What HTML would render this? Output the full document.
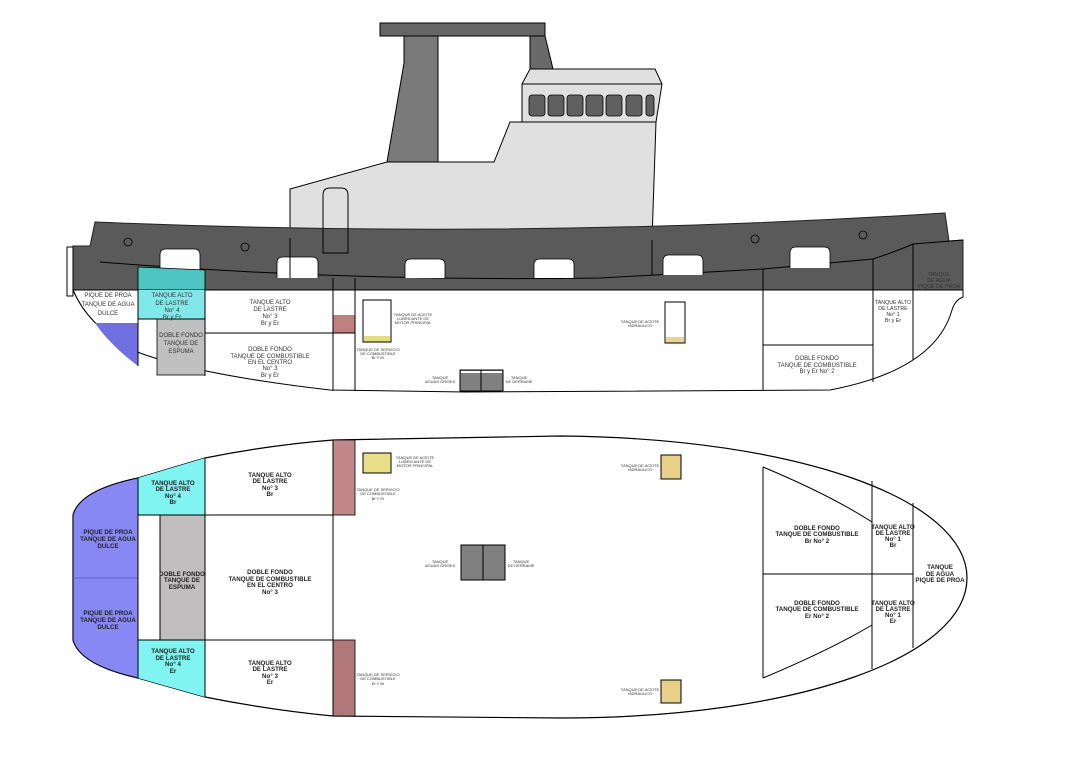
<!DOCTYPE html>
<html><head><meta charset="utf-8"><style>
html,body{margin:0;padding:0;background:#fff;}
svg{display:block;}
text{font-family:"Liberation Sans",sans-serif;fill:#333;text-anchor:middle;}
.s{font-size:6px;}
.x{font-size:5.3px;}
.t{font-size:4px;}
.b{font-size:6.2px;font-weight:bold;fill:#222;}
</style></head><body>
<svg width="1075" height="770" viewBox="0 0 1075 770" xmlns="http://www.w3.org/2000/svg">
<polygon points="290,238 290,189 387,162 494,162 510,122 522,122 522,84 530,69 655,69 662,84 656,122 652,240" fill="#e0e0e0" stroke="#000" stroke-width="1"/>
<line x1="522" y1="84" x2="662" y2="84" stroke="#000"/>
<line x1="510" y1="122" x2="656" y2="122" stroke="#000"/>
<polygon points="404,36 438,36 438,162 387,162 404,63" fill="#7a7a7a" stroke="#000" stroke-width="1"/>
<polygon points="530,36 545,36 553,69 530,69" fill="#6a6a6a" stroke="#000" stroke-width="1"/>
<rect x="380" y="23" width="165" height="13" fill="#666" stroke="#000"/>
<g fill="#606060" stroke="#000" stroke-width="0.8">
<rect x="529" y="95" width="16" height="21" rx="3"/><rect x="548" y="95" width="16" height="21" rx="3"/>
<rect x="567" y="95" width="16" height="21" rx="3"/><rect x="586" y="95" width="17" height="21" rx="3"/>
<rect x="606" y="95" width="16" height="21" rx="3"/><rect x="626" y="95" width="16" height="21" rx="3"/>
<rect x="646" y="95" width="8" height="21" rx="3"/></g>
<path d="M73,290 L73,246 L90,246 L95,222 Q520,240 945,213 L949,241 L963,240 L963,290 Z" fill="#5a5a5a" stroke="#222" stroke-width="1"/>
<rect x="67" y="247" width="6" height="49" fill="#fff" stroke="#000" stroke-width="1"/>
<path d="M100,262 Q350,282 600,278 L763,269 L873,259 Q900,250 913,244 L963,240" fill="none" stroke="#000" stroke-width="1"/>
<g fill="#fff" stroke="#000" stroke-width="0.8">
<path d="M160,272 L160,255 Q160,249 166,249 L194,249 Q200,249 200,255 L200,272"/>
<path d="M277,278 L277,263 Q277,257 283,257 L312,257 Q318,257 318,263 L318,278"/>
<path d="M405,278 L405,265 Q405,259 411,259 L439,259 Q445,259 445,265 L445,278"/>
<path d="M534,278 L534,265 Q534,259 540,259 L568,259 Q574,259 574,265 L574,278"/>
<path d="M663,275 L663,261 Q663,255 669,255 L697,255 Q703,255 703,261 L703,275"/>
<path d="M790,268 L790,253 Q790,247 796,247 L824,247 Q830,247 830,253 L830,268"/>
</g>
<path d="M323,253 L323,195 Q323,188 330,188 L341,188 Q348,188 348,195 L348,253 Z" fill="none" stroke="#000" stroke-width="1"/>
<g fill="none" stroke="#000" stroke-width="0.8">
<circle cx="128" cy="242" r="4"/><circle cx="245" cy="247" r="4"/><circle cx="755" cy="239" r="4"/><circle cx="863" cy="235" r="4"/></g>
<g stroke="#000" stroke-width="1">
<line x1="290" y1="238" x2="290" y2="278"/><line x1="652" y1="240" x2="652" y2="275"/>
<line x1="333" y1="278" x2="333" y2="290"/><line x1="355" y1="278" x2="355" y2="290"/>
<line x1="205" y1="270" x2="205" y2="290"/><line x1="138" y1="267" x2="138" y2="290"/>
<line x1="763" y1="269" x2="763" y2="290"/><line x1="873" y1="259" x2="873" y2="290"/><line x1="913" y1="244" x2="913" y2="290"/></g>
<path d="M138,267 L205,270 L205,290 L138,290 Z" fill="#4fc4c4" stroke="#000" stroke-width="0.8"/>
<path d="M73,290 L963,290 L963,297 Q955,300 952,310 Q935,370 830,390 L465,392 L330,390 Q200,375 140,353 Q90,330 73,290 Z" fill="#fff" stroke="#000" stroke-width="1"/>
<rect x="138" y="290" width="67" height="29" fill="#80e8e8"/>
<path d="M95,323 L138,323 L138,366 Q110,345 95,323 Z" fill="#7070e0"/>
<rect x="157" y="319" width="48" height="56" fill="#c0c0c0" stroke="#000" stroke-width="0.8"/>
<rect x="333" y="315" width="22" height="18" fill="#c08080"/>
<g stroke="#000" stroke-width="1">
<line x1="138" y1="290" x2="138" y2="366"/><line x1="205" y1="290" x2="205" y2="376"/>
<line x1="138" y1="319" x2="205" y2="319"/><line x1="205" y1="333" x2="355" y2="333"/>
<line x1="333" y1="290" x2="333" y2="391"/><line x1="355" y1="290" x2="355" y2="391"/>
<line x1="763" y1="290" x2="763" y2="390"/><line x1="763" y1="345" x2="873" y2="345"/>
<line x1="873" y1="290" x2="873" y2="382"/><line x1="913" y1="290" x2="913" y2="360"/></g>
<rect x="363" y="300" width="28" height="42" fill="#fff" stroke="#000"/><rect x="364" y="336" width="26" height="5.5" fill="#e6dc80"/>
<rect x="665" y="302" width="20" height="41" fill="#fff" stroke="#000"/><rect x="666" y="337" width="18" height="5.5" fill="#e6d49a"/>
<rect x="460" y="370" width="43" height="21" fill="#808080" stroke="#000"/><rect x="461" y="371" width="41" height="2" fill="#fff"/><line x1="481" y1="370" x2="481" y2="391" stroke="#000"/>
<text class="s" x="108" y="297">PIQUE DE PROA</text><text class="s" x="108" y="306">TANQUE DE AGUA</text><text class="s" x="108" y="315">DULCE</text>
<text class="s" x="172" y="297">TANQUE ALTO</text><text class="s" x="172" y="305">DE LASTRE</text><text class="s" x="172" y="312">No° 4</text><text class="s" x="172" y="319">Br y Er</text>
<text class="s" x="181" y="337">DOBLE FONDO</text><text class="s" x="181" y="345">TANQUE DE</text><text class="s" x="181" y="353">ESPUMA</text>
<text class="s" x="270" y="304">TANQUE ALTO</text><text class="s" x="270" y="311">DE LASTRE</text><text class="s" x="270" y="318">No° 3</text><text class="s" x="270" y="325">Br y Er</text>
<text class="s" x="270" y="351">DOBLE FONDO</text><text class="s" x="270" y="358">TANQUE DE COMBUSTIBLE</text><text class="s" x="270" y="364">EN EL CENTRO</text><text class="s" x="270" y="370">No° 3</text><text class="s" x="270" y="377">Br y Er</text>
<text class="t" x="413" y="316">TANQUE DE ACEITE</text><text class="t" x="413" y="320">LUBRICANTE DE</text><text class="t" x="413" y="324">MOTOR PRINCIPAL</text>
<text class="t" x="378" y="351">TANQUE DE SERVICIO</text><text class="t" x="378" y="355">DE COMBUSTIBLE</text><text class="t" x="378" y="359">Br Y Er</text>
<text class="t" x="440" y="379">TANQUE</text><text class="t" x="440" y="383">AGUAS GRISES</text>
<text class="t" x="519" y="379">TANQUE</text><text class="t" x="519" y="383">DE DERRAME</text>
<text class="t" x="640" y="323">TANQUE DE ACEITE</text><text class="t" x="640" y="327">HIDRAULICO</text>
<text class="s" x="817" y="360">DOBLE FONDO</text><text class="s" x="817" y="367">TANQUE DE COMBUSTIBLE</text><text class="s" x="817" y="373">Br y Er No° 2</text>
<text class="x" x="893" y="304">TANQUE ALTO</text><text class="x" x="893" y="310">DE LASTRE</text><text class="x" x="893" y="316">No° 1</text><text class="x" x="893" y="322">Br y Er</text>
<text class="x" x="939" y="276">TANQUE</text><text class="x" x="939" y="282">DE AGUA</text><text class="x" x="939" y="288">PIQUE DE PROA</text>

<path d="M73,515 Q80,490 138,478 L205,458 Q270,445 333,440 L560,436 C800,438 967,500 967,578 C967,656 800,718 560,718 L333,716 Q270,710 205,697 L138,678 Q80,665 73,640 Z" fill="#fff" stroke="#000" stroke-width="1.2"/>
<path d="M73,515 Q80,490 138,478 L138,678 Q80,665 73,640 Z" fill="#8888f4" stroke="#000" stroke-width="1"/>
<line x1="73" y1="578" x2="138" y2="578" stroke="#5555cc" stroke-width="0.8"/>
<path d="M138,478 L205,458 L205,515 L138,515 Z" fill="#80f4f0"/>
<path d="M138,640 L205,640 L205,697 L138,678 Z" fill="#80f4f0"/>
<rect x="160" y="515" width="45" height="125" fill="#c0bebe"/>
<rect x="333" y="440" width="22" height="75" fill="#c08888" stroke="#000" stroke-width="0.8"/>
<rect x="333" y="640" width="22" height="76" fill="#b07878" stroke="#000" stroke-width="0.8"/>
<g stroke="#000" stroke-width="1">
<line x1="138" y1="478" x2="138" y2="678"/><line x1="205" y1="458" x2="205" y2="697"/>
<line x1="160" y1="515" x2="160" y2="640"/><line x1="138" y1="515" x2="333" y2="515"/><line x1="138" y1="640" x2="333" y2="640"/>
<line x1="333" y1="440" x2="333" y2="716"/>
<path d="M763,467 Q830,495 872,522" fill="none"/><path d="M763,678 Q830,650 872,625" fill="none"/>
<line x1="763" y1="467" x2="763" y2="678"/><line x1="763" y1="574" x2="913" y2="574"/>
<line x1="872" y1="481" x2="872" y2="669"/><line x1="913" y1="503" x2="913" y2="648"/></g>
<rect x="363" y="453" width="28" height="20" fill="#e8de88" stroke="#000"/>
<rect x="661" y="455" width="20" height="24" fill="#e8d088" stroke="#000"/>
<rect x="661" y="680" width="20" height="23" fill="#e8d088" stroke="#000"/>
<rect x="461" y="545" width="44" height="35" fill="#808080" stroke="#000"/><line x1="483" y1="545" x2="483" y2="580" stroke="#000"/>
<text class="b" x="108" y="534">PIQUE DE PROA</text><text class="b" x="108" y="541">TANQUE DE AGUA</text><text class="b" x="108" y="548">DULCE</text>
<text class="b" x="108" y="615">PIQUE DE PROA</text><text class="b" x="108" y="622">TANQUE DE AGUA</text><text class="b" x="108" y="629">DULCE</text>
<text class="b" x="173" y="485">TANQUE ALTO</text><text class="b" x="173" y="491">DE LASTRE</text><text class="b" x="173" y="498">No° 4</text><text class="b" x="173" y="504">Br</text>
<text class="b" x="173" y="653">TANQUE ALTO</text><text class="b" x="173" y="660">DE LASTRE</text><text class="b" x="173" y="666">No° 4</text><text class="b" x="173" y="673">Er</text>
<text class="b" x="182" y="576">DOBLE FONDO</text><text class="b" x="182" y="582">TANQUE DE</text><text class="b" x="182" y="589">ESPUMA</text>
<text class="b" x="270" y="477">TANQUE ALTO</text><text class="b" x="270" y="483">DE LASTRE</text><text class="b" x="270" y="490">No° 3</text><text class="b" x="270" y="496">Br</text>
<text class="b" x="270" y="665">TANQUE ALTO</text><text class="b" x="270" y="671">DE LASTRE</text><text class="b" x="270" y="678">No° 3</text><text class="b" x="270" y="684">Er</text>
<text class="b" x="270" y="574">DOBLE FONDO</text><text class="b" x="270" y="581">TANQUE DE COMBUSTIBLE</text><text class="b" x="270" y="587">EN EL CENTRO</text><text class="b" x="270" y="594">No° 3</text>
<text class="t" x="415" y="459">TANQUE DE ACEITE</text><text class="t" x="415" y="463">LUBRICANTE DE</text><text class="t" x="415" y="467">MOTOR PRINCIPAL</text>
<text class="t" x="378" y="491">TANQUE DE SERVICIO</text><text class="t" x="378" y="495">DE COMBUSTIBLE</text><text class="t" x="378" y="500">Br Y Er</text>
<text class="t" x="378" y="676">TANQUE DE SERVICIO</text><text class="t" x="378" y="680">DE COMBUSTIBLE</text><text class="t" x="378" y="685">Er Y Br</text>
<text class="t" x="440" y="563">TANQUE</text><text class="t" x="440" y="567">AGUAS GRISES</text>
<text class="t" x="521" y="563">TANQUE</text><text class="t" x="521" y="567">DE DERRAME</text>
<text class="t" x="640" y="467">TANQUE DE ACEITE</text><text class="t" x="640" y="471">HIDRAULICO</text>
<text class="t" x="640" y="691">TANQUE DE ACEITE</text><text class="t" x="640" y="695">HIDRAULICO</text>
<text class="b" x="817" y="530">DOBLE FONDO</text><text class="b" x="817" y="536">TANQUE DE COMBUSTIBLE</text><text class="b" x="817" y="543">Br No° 2</text>
<text class="b" x="817" y="605">DOBLE FONDO</text><text class="b" x="817" y="611">TANQUE DE COMBUSTIBLE</text><text class="b" x="817" y="618">Er No° 2</text>
<text class="b" x="893" y="529">TANQUE ALTO</text><text class="b" x="893" y="535">DE LASTRE</text><text class="b" x="893" y="541">No° 1</text><text class="b" x="893" y="547">Br</text>
<text class="b" x="893" y="605">TANQUE ALTO</text><text class="b" x="893" y="611">DE LASTRE</text><text class="b" x="893" y="617">No° 1</text><text class="b" x="893" y="623">Er</text>
<text class="b" x="940" y="569">TANQUE</text><text class="b" x="940" y="576">DE AGUA</text><text class="b" x="940" y="582">PIQUE DE PROA</text>
</svg>
</body></html>
